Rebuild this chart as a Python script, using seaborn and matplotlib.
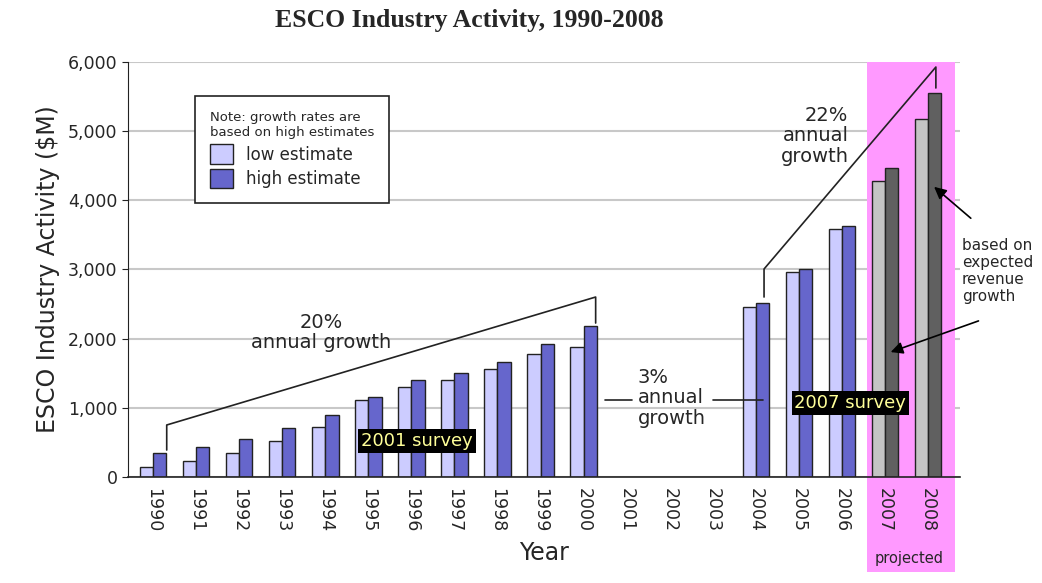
import pandas as pd
import matplotlib.pyplot as plt
import seaborn as sns
from matplotlib.patches import Rectangle, Patch

years = [str(y) for y in range(1990, 2009)]
data_years = ['1990', '1991', '1992', '1993', '1994', '1995', '1996', '1997', '1998',
              '1999', '2000', '2004', '2005', '2006', '2007', '2008']
low_estimate = [150, 230, 340, 520, 725, 1110, 1300, 1400, 1555, 1775, 1885,
                2460, 2960, 3580, 4280, 5170]
high_estimate = [340, 440, 550, 710, 895, 1160, 1400, 1510, 1665, 1930, 2190,
                 2510, 3010, 3635, 4460, 5555]
projected_years = ['2007', '2008']

df = pd.DataFrame({
    'Year': data_years * 2,
    'value': low_estimate + high_estimate,
    'series': ['low estimate'] * len(data_years) + ['high estimate'] * len(data_years),
})

sns.set_style("white")
plt.rcParams['font.family'] = ['DejaVu Sans']

fig = plt.figure(figsize=(10.42, 5.83), dpi=100)
ax = fig.add_axes([0.1228, 0.1818, 0.7985, 0.7119])

# projected region (pink band, reaches below the axis, covers the grid)
proj_idx = [years.index(y) for y in projected_years]
band = Rectangle((proj_idx[0] - 0.42, -0.229), (proj_idx[-1] - proj_idx[0]) + 1.05, 1.229,
                 transform=ax.get_xaxis_transform(), facecolor='#ff99ff',
                 edgecolor='none', clip_on=False, zorder=1)
ax.add_patch(band)

sns.barplot(data=df, x='Year', y='value', hue='series', order=years,
            hue_order=['low estimate', 'high estimate'],
            palette=['#ccccff', '#6666cc'], width=0.62, edgecolor='#222222',
            linewidth=1, saturation=1, ax=ax, zorder=3, legend=False)

# grey bars for projected years
for cont, col in zip(ax.containers, ['#c4c4c4', '#606060']):
    for bar in cont:
        cx = bar.get_x() + bar.get_width() / 2
        if cx > proj_idx[0] - 0.5:
            bar.set_facecolor(col)

ax.set_xlim(-0.58, 18.74)
ax.set_ylim(0, 6000)
ax.set_yticks(range(0, 6001, 1000))
ax.set_yticklabels([f'{v:,}' for v in range(0, 6001, 1000)], fontsize=12.5)
ax.yaxis.grid(True, color='#c8c8c8', linewidth=1.5)
ax.set_axisbelow(True)
ax.xaxis.set_zorder(4)  # year labels stay on top of the pink band
for s in ['top', 'right']:
    ax.spines[s].set_visible(False)
ax.spines['left'].set_color('#222222')
ax.spines['bottom'].set_color('#222222')
ax.spines['bottom'].set_linewidth(1.2)
ax.spines['bottom'].set_zorder(4)
ax.tick_params(axis='y', which='both', left=True, length=4, color='#222222')
ax.tick_params(axis='x', labelrotation=-90, labelsize=12.5, length=0, pad=8)

ax.set_xlabel('Year', fontsize=17, labelpad=6)
ax.set_ylabel('ESCO Industry Activity ($M)', fontsize=17, labelpad=6)
fig.suptitle('ESCO Industry Activity, 1990-2008', x=0.45, y=0.985, fontsize=18.5,
             fontweight='bold', family='Liberation Serif')

ax.text(proj_idx[0] + 0.55, -0.215, 'projected', transform=ax.get_xaxis_transform(),
        ha='center', va='bottom', fontsize=10.5)

# legend
handles = [Patch(facecolor='#ccccff', edgecolor='#222222', label='low estimate'),
           Patch(facecolor='#6666cc', edgecolor='#222222', label='high estimate')]
leg = ax.legend(handles=handles, title='Note: growth rates are\nbased on high estimates',
                loc='upper left', bbox_to_anchor=(0.08, 0.917), borderaxespad=0,
                fontsize=12, title_fontsize=9.5, fancybox=False, framealpha=1,
                edgecolor='#222222', handlelength=1.4, handleheight=1.4,
                borderpad=0.9, labelspacing=0.3)
leg._legend_box.align = 'left'
leg.get_frame().set_linewidth(1.2)
leg.set_zorder(5)

lc = '#222222'
# 20% bracket
ax.plot([0.32, 0.32, 10.28, 10.28], [390, 752, 2602, 2226], color=lc, lw=1.2, zorder=4)
ax.text(3.9, 2090, '20%\nannual growth', ha='center', va='center', fontsize=14,
        linespacing=1.1, zorder=4)
# 3% lines
ax.plot([10.5, 11.12], [1113, 1113], color=lc, lw=1.2, zorder=4)
ax.plot([13.0, 14.17], [1113, 1113], color=lc, lw=1.2, zorder=4)
ax.text(11.25, 1145, '3%\nannual\ngrowth', ha='left', va='center', fontsize=14,
        linespacing=1.1, zorder=4)
# 22% bracket
ax.plot([14.19, 14.19, 18.18, 18.18], [2602, 3007, 5927, 5624], color=lc, lw=1.2, zorder=4)
ax.text(16.15, 4930, '22%\nannual\ngrowth', ha='right', va='center', fontsize=14,
        linespacing=1.1, zorder=4)
# based on expected revenue growth
ax.text(18.78, 2980, 'based on\nexpected\nrevenue\ngrowth', ha='left', va='center',
        fontsize=11, linespacing=1.15, zorder=4, clip_on=False)
ax.annotate('', xy=(18.09, 4221), xytext=(19.04, 3715),
            arrowprops=dict(arrowstyle='-|>', color='black', lw=1.2, mutation_scale=18),
            zorder=6, annotation_clip=False)
ax.annotate('', xy=(17.07, 1793), xytext=(19.23, 2270),
            arrowprops=dict(arrowstyle='-|>', color='black', lw=1.2, mutation_scale=18),
            zorder=6, annotation_clip=False)

# survey labels
box = dict(boxstyle='square,pad=0.15', facecolor='black', edgecolor='none')
ax.text(6.13, 520, '2001 survey', ha='center', va='center', fontsize=13,
        color='#ffff99', bbox=box, zorder=6)
ax.text(16.19, 1070, '2007 survey', ha='center', va='center', fontsize=13,
        color='#ffff99', bbox=box, zorder=6)

fig.savefig('out.png', dpi=100)
